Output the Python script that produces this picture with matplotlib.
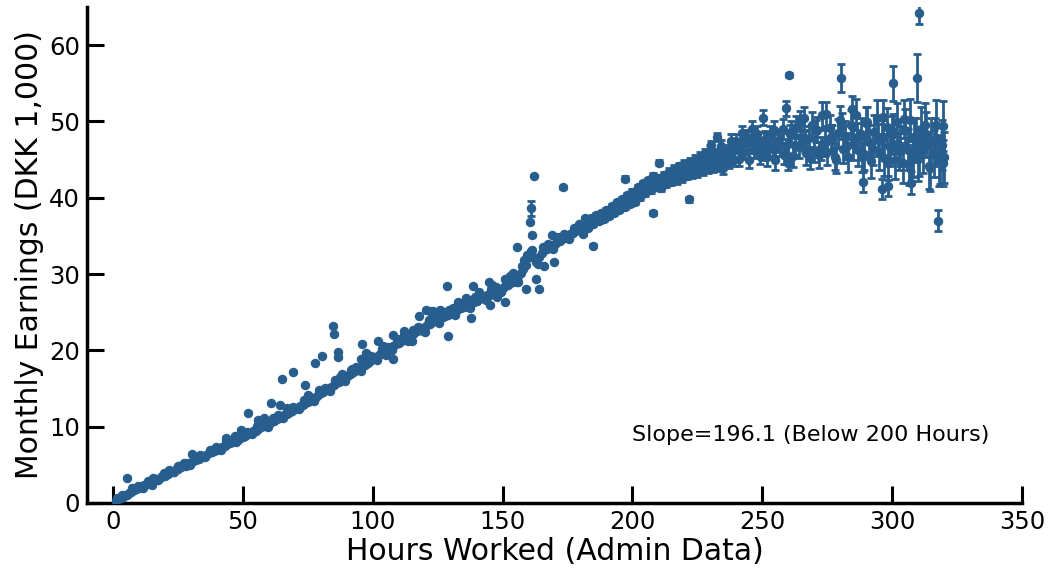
import matplotlib
matplotlib.use("Agg")
import matplotlib.pyplot as plt

# ---- data ----
hours_a = list(range(1, 180))
earn_a = [
    0.3, 0.5, 0.7, 0.8, 1.1, 1.3, 1.4, 1.7, 1.8, 2.0,
    2.2, 2.3, 2.5, 2.6, 2.9, 3.0, 3.1, 3.3, 3.5, 3.6,
    3.8, 4.0, 4.1, 4.3, 4.4, 4.7, 4.8, 4.9, 5.2, 5.3,
    5.5, 5.7, 5.8, 6.0, 6.2, 6.3, 6.5, 6.7, 6.8, 7.0,
    7.2, 7.3, 7.5, 7.7, 7.8, 8.0, 8.2, 8.3, 8.5, 8.6,
    8.8, 9.0, 9.2, 9.4, 9.5, 9.7, 9.9, 10.1, 10.2, 10.4,
    10.6, 10.8, 11.0, 11.2, 11.4, 11.5, 11.7, 11.9, 12.1, 12.3,
    12.5, 12.7, 12.9, 13.1, 13.3, 13.5, 13.7, 13.9, 14.1, 14.4,
    14.6, 14.8, 15.0, 15.2, 15.4, 15.7, 15.9, 16.1, 16.3, 16.6,
    16.8, 17.0, 17.3, 17.5, 17.7, 17.9, 18.1, 18.4, 18.6, 18.9,
    19.1, 19.3, 19.5, 19.7, 19.9, 20.1, 20.4, 20.6, 20.8, 21.0,
    21.2, 21.4, 21.6, 21.8, 22.0, 22.3, 22.5, 22.7, 22.9, 23.1,
    23.3, 23.5, 23.7, 23.8, 24.0, 24.2, 24.4, 24.5, 24.7, 24.9,
    25.0, 25.2, 25.4, 25.5, 25.7, 25.8, 26.0, 26.2, 26.3, 26.5,
    26.7, 26.8, 27.0, 27.2, 27.3, 27.5, 27.7, 27.8, 28.0, 28.2,
    28.4, 28.6, 28.8, 29.0, 29.3, 29.7, 30.1, 30.6, 31.2, 32.3,
    33.0, 32.1, 31.6, 32.3, 32.8, 33.1, 33.3, 33.5, 33.8, 34.0,
    34.2, 34.4, 34.6, 34.8, 35.0, 35.2, 35.4, 35.6, 35.8,
]

hours_a2 = [1.5 + 2 * i for i in range(90)]
earn_a2 = [
    0.6, 1.0, 1.0, 1.9, 2.2, 2.0, 2.9, 3.3, 3.0, 3.9,
    4.3, 4.0, 4.9, 5.3, 5.0, 6.0, 6.3, 6.0, 7.0, 7.3,
    7.0, 8.0, 8.3, 8.0, 9.0, 9.3, 9.0, 10.1, 10.4, 10.0,
    11.2, 11.5, 11.1, 12.3, 12.6, 12.3, 13.5, 13.8, 13.4, 14.8,
    15.1, 14.7, 16.1, 16.5, 16.0, 17.4, 17.8, 17.3, 18.8, 19.2,
    18.8, 20.2, 20.5, 20.0, 21.5, 21.8, 21.2, 22.7, 23.1, 22.5,
    24.0, 24.3, 23.6, 25.0, 25.3, 24.6, 26.0, 26.3, 25.6, 27.0,
    27.3, 26.6, 28.0, 28.3, 27.6, 29.1, 29.5, 29.0, 31.0, 32.5,
    33.2, 31.3, 33.6, 34.0, 33.3, 34.9, 35.3, 34.6, 36.1, 36.5,
]

hours_b = list(range(180, 321))
earn_b = [
    36.0, 35.3, 36.9, 36.1, 37.3, 36.5, 37.8, 36.9, 38.0, 37.2,
    38.4, 37.6, 38.9, 38.0, 39.4, 38.4, 39.8, 38.8, 40.3, 39.2,
    40.8, 39.5, 41.4, 40.1, 41.9, 40.6, 42.3, 41.0, 42.8, 41.4,
    42.6, 41.3, 43.0, 41.8, 43.4, 42.1, 43.8, 42.3, 44.1, 42.6,
    44.4, 42.9, 44.7, 43.1, 45.0, 43.3, 45.4, 43.6, 45.8, 43.9,
    46.2, 44.1, 45.6, 44.3, 46.8, 43.9, 46.1, 44.7, 47.5, 45.0,
    47.4, 45.1, 48.5, 46.0, 47.9, 44.9, 49.0, 46.3, 48.3, 45.5,
    46.0, 47.6, 45.3, 48.2, 46.4, 44.9, 47.5, 46.8, 49.0, 45.8,
    47.1, 48.6, 45.5, 49.3, 46.7, 48.0, 50.4, 45.9, 47.8, 49.6,
    46.3, 48.9, 45.6, 50.8, 47.2, 46.0, 49.1, 47.7, 45.4, 48.5,
    50.2, 46.4, 48.1, 45.3, 49.6, 47.0, 50.9, 46.2, 48.4, 45.8,
    49.8, 47.3, 44.8, 48.6, 50.5, 46.0, 47.9, 45.2, 49.3, 46.6,
    48.2, 45.0, 49.9, 46.8, 44.6, 48.9, 46.3, 50.2, 45.5, 47.6,
    45.1, 49.0, 46.2, 48.3, 44.2, 47.4, 45.8, 49.6, 44.7, 46.9,
    45.3,
]
err_b = [
    0.2, 0.2, 0.2, 0.2, 0.2, 0.2, 0.2, 0.2, 0.2, 0.2,
    0.25, 0.25, 0.25, 0.25, 0.25, 0.3, 0.3, 0.3, 0.3, 0.3,
    0.3, 0.3, 0.3, 0.35, 0.35, 0.35, 0.35, 0.35, 0.4, 0.4,
    0.4, 0.4, 0.4, 0.4, 0.45, 0.45, 0.45, 0.45, 0.45, 0.5,
    0.5, 0.5, 0.55, 0.55, 0.6, 0.6, 0.6, 0.65, 0.65, 0.7,
    0.7, 0.7, 0.75, 0.75, 0.8, 0.8, 0.8, 0.85, 0.85, 0.9,
    0.9, 0.9, 0.95, 0.95, 1.0, 1.0, 1.0, 1.05, 1.05, 1.1,
    1.0, 1.1, 1.1, 1.15, 1.2, 1.2, 1.25, 1.3, 1.3, 1.35,
    1.4, 1.4, 1.45, 1.45, 1.5, 1.5, 1.55, 1.55, 1.6, 1.6,
    1.6, 1.65, 1.65, 1.7, 1.7, 1.75, 1.75, 1.8, 1.8, 1.8,
    1.85, 1.85, 1.9, 1.9, 1.95, 2.0, 2.0, 2.05, 2.1, 2.1,
    2.15, 2.2, 2.2, 2.25, 2.3, 2.3, 2.35, 2.4, 2.4, 2.45,
    2.5, 2.5, 2.55, 2.6, 2.6, 2.7, 2.7, 2.75, 2.8, 2.85,
    2.9, 2.9, 3.0, 3.0, 3.05, 3.1, 3.1, 3.2, 3.2, 3.3,
    3.3,
]

hours_b2 = [180.5 + 2 * i for i in range(70)]
earn_b2 = [
    36.3, 36.6, 37.0, 37.4, 37.7, 38.1, 38.5, 38.9, 39.3, 39.7,
    40.1, 40.6, 41.0, 41.5, 41.9, 42.3, 42.7, 42.9, 43.0, 43.3,
    43.6, 43.9, 44.2, 44.5, 44.8, 45.1, 45.3, 45.6, 45.9, 46.2,
    46.8, 47.0, 47.2, 47.3, 47.5, 47.6, 46.5, 48.9, 47.2, 45.6,
    48.3, 46.9, 50.1, 47.4, 45.2, 48.8, 46.5, 51.0, 47.9, 44.9,
    49.4, 46.8, 51.6, 48.0, 45.3, 49.9, 46.4, 47.6, 50.6, 44.6,
    48.7, 46.1, 50.3, 44.3, 47.7, 45.6, 49.5, 43.9, 47.3, 45.0,
]
err_b2 = [
    0.2, 0.2, 0.2, 0.2, 0.2, 0.25, 0.25, 0.3, 0.3, 0.3,
    0.3, 0.35, 0.35, 0.4, 0.4, 0.4, 0.45, 0.45, 0.5, 0.5,
    0.55, 0.55, 0.6, 0.6, 0.65, 0.7, 0.7, 0.75, 0.8, 0.85,
    0.85, 0.9, 0.9, 0.95, 1.0, 1.0, 1.05, 1.1, 1.15, 1.2,
    1.25, 1.3, 1.3, 1.35, 1.4, 1.45, 1.5, 1.55, 1.6, 1.65,
    1.7, 1.75, 1.8, 1.85, 1.9, 2.0, 2.05, 2.1, 2.2, 2.25,
    2.3, 2.4, 2.5, 2.6, 2.7, 2.8, 2.9, 3.0, 3.1, 3.2,
]

# scattered points off the main band
extra_hours = [5.3, 84.7, 85.1, 80.5, 77.8, 69.4, 65.0, 60.8, 52.0, 56.0,
               49.3, 43.5, 30.4, 86.6, 95.9, 97.4, 95.5, 73.9, 64.3, 128.6,
               138.6, 129.0, 151.0, 137.8, 144.8, 155.6, 158.3, 162.1, 160.6, 161.3,
               162.9, 164.0, 159.0, 166.0, 169.8, 169.0, 173.3,
               102, 108, 112, 118, 122, 125, 133, 136, 141, 146,
               148, 153, 145, 115, 105, 92, 88, 75, 67, 58,
               47, 38, 25, 15, 120, 131, 154, 156, 151, 126,
               104.0, 107.8, 112.4, 120.5, 123.2, 86.6,
               184.9, 181.7, 197.0, 207.9, 210.2, 221.8, 230.3, 232.6, 250.3, 259.3,
               259.9, 260.3, 280.3, 288.8, 296.1, 298.4, 300.3, 307.3, 309.6, 310.4,
               317.7, 319.6, 319.6]
extra_earn = [3.3, 23.2, 22.1, 19.3, 18.4, 17.2, 16.3, 13.1, 11.8, 10.9,
              9.6, 8.5, 6.4, 19.8, 20.9, 19.7, 18.9, 15.4, 12.9, 28.5,
              28.5, 21.9, 26.3, 24.3, 28.9, 33.5, 31.9, 42.9, 36.8, 35.1,
              29.3, 28.0, 28.1, 31.0, 31.6, 35.1, 41.4,
              21.2, 22.0, 22.5, 24.5, 25.2, 24.6, 26.4, 26.9, 27.6, 28.6,
              27.0, 29.8, 26.0, 21.2, 19.4, 17.5, 16.9, 14.2, 12.4, 11.2,
              8.8, 7.0, 4.8, 2.4, 22.4, 25.5, 30.2, 29.0, 29.4, 25.3,
              20.6, 18.9, 22.2, 25.3, 25.1, 19.1,
              33.7, 37.3, 42.5, 38.0, 44.6, 39.8, 46.9, 48.0, 50.5, 51.7,
              44.5, 56.1, 55.7, 42.1, 41.1, 41.5, 55.0, 42.0, 55.7, 64.2,
              37.0, 49.4, 44.6]
extra_err = [0.05] * 73 + \
            [0.2, 0.2, 0.3, 0.3, 0.3, 0.3, 0.5, 0.5, 1.0, 1.0,
             0.8, 0.3, 1.8, 1.3, 1.3, 1.3, 2.3, 1.5, 3.2, 1.4,
             1.4, 3.3, 3.0]
extra_err[36] = 0.2   # the point near 173 h

color = "#275e8e"

fig = plt.figure(figsize=(10.52, 5.74), dpi=100)
ax = fig.add_axes([0.0827, 0.1237, 0.8888, 0.8641])

eb_kw = dict(fmt="o", color=color, ecolor=color, markersize=5.8,
             elinewidth=2.0, capsize=3, capthick=2.0, zorder=3)
ax.errorbar(hours_a, earn_a, **eb_kw)
ax.errorbar(hours_a2, earn_a2, **eb_kw)
ax.errorbar(hours_b, earn_b, yerr=err_b, **eb_kw)
ax.errorbar(hours_b2, earn_b2, yerr=err_b2, **eb_kw)
ax.errorbar(extra_hours, extra_earn, yerr=extra_err, **eb_kw)
# visible error bar on the 161 h point
ax.errorbar([161.0], [38.6], yerr=[1.0], **eb_kw)

ax.text(200, 7.6, "Slope=196.1 (Below 200 Hours)", fontsize=16,
        ha="left", va="bottom")

ax.set_xlim(-10, 350)
ax.set_ylim(0, 65)
ax.set_xticks([0, 50, 100, 150, 200, 250, 300, 350])
ax.set_yticks([0, 10, 20, 30, 40, 50, 60])
ax.set_xlabel("Hours Worked (Admin Data)", fontsize=21.5, labelpad=2)
ax.set_ylabel("Monthly Earnings (DKK 1,000)", fontsize=21.5, labelpad=4)
ax.tick_params(direction="in", length=12.5, width=2.2, labelsize=17.5, pad=5)
for s in ["top", "right"]:
    ax.spines[s].set_visible(False)
for s in ["left", "bottom"]:
    ax.spines[s].set_linewidth(2.5)

fig.savefig("out.png", dpi=100)
